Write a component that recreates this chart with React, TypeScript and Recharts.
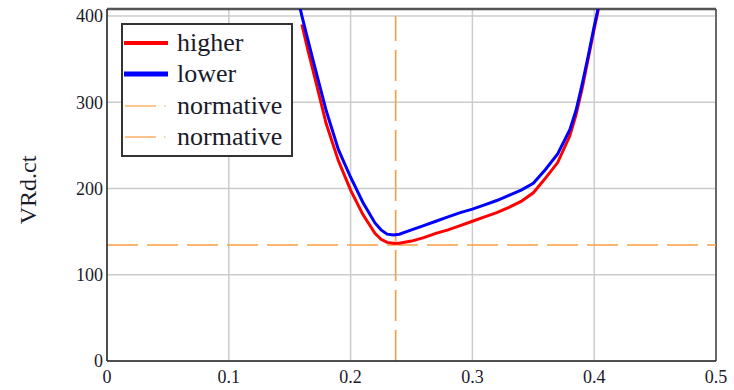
import {
  LineChart,
  Line,
  XAxis,
  YAxis,
  CartesianGrid,
  ReferenceLine,
  Legend,
} from 'recharts'

// x positions shared by both curves
const xs = [
  0.155, 0.16, 0.165, 0.17, 0.18, 0.19, 0.2, 0.21, 0.22, 0.225, 0.23, 0.235, 0.24, 0.25, 0.26,
  0.27, 0.28, 0.29, 0.3, 0.31, 0.32, 0.33, 0.34, 0.35, 0.36, 0.37, 0.38, 0.385, 0.39, 0.395,
  0.4, 0.405,
]
// red curve starts at x = 0.16
const higher = [
  null, 390, 360, 332, 275, 232, 198, 170, 148, 141, 137.5, 136.5, 136.5, 139, 143,
  148, 152, 157, 162, 167, 172, 178, 185, 195, 212, 230, 261, 285, 315, 350,
  385, 418,
]
const lower = [
  430, 400, 372, 344, 290, 245, 213, 184, 160, 152, 147, 146, 147, 152, 157,
  162, 167, 172, 176, 181, 186, 192, 198, 206, 222, 240, 268, 290, 320, 353,
  388, 420,
]
const xTicks = [0, 0.1, 0.2, 0.3, 0.4, 0.5]
const yTicks = [0, 100, 200, 300, 400]
const normativeX = 0.237
const normativeY = 134.5

const data = xs.map((x, i) => ({ x, higher: higher[i], lower: lower[i] }))

const FONT = "'Liberation Serif', serif"
const ORANGE = '#fa9f42'
const TEXT = '#1a1a2a'

function ChartLegend() {
  const rows = [
    { label: 'higher', kind: 'red' },
    { label: 'lower', kind: 'blue' },
    { label: 'normative', kind: 'norm' },
    { label: 'normative', kind: 'norm' },
  ]
  return (
    <div
      style={{
        border: '2px solid #333',
        background: '#fff',
        width: 168,
        height: 128,
        boxSizing: 'content-box',
        paddingTop: 2,
      }}
    >
      {rows.map((r, i) => (
        <div key={i} style={{ display: 'flex', alignItems: 'center', height: 31.5 }}>
          <svg width={54} height={12} style={{ flex: 'none' }}>
            {r.kind === 'red' && <line x1={1} y1={6} x2={45} y2={6} stroke="#ff0000" strokeWidth={4} />}
            {r.kind === 'blue' && <line x1={1} y1={6} x2={45} y2={6} stroke="#0000ff" strokeWidth={5} />}
            {r.kind === 'norm' && (
              <>
                <line x1={2} y1={6} x2={33} y2={6} stroke={ORANGE} strokeWidth={1.2} />
                <line x1={41} y1={6} x2={42.5} y2={6} stroke={ORANGE} strokeWidth={1.2} />
              </>
            )}
          </svg>
          <span style={{ fontFamily: FONT, fontSize: 26, color: TEXT, lineHeight: '26px' }}>{r.label}</span>
        </div>
      ))}
    </div>
  )
}

const tickStyle = { fill: TEXT, fontSize: 18, fontFamily: FONT }

export default function App() {
  return (
    <div style={{ position: 'absolute', left: 0, top: 0, background: '#fff', fontFamily: FONT }}>
      <LineChart width={734} height={390} data={data} margin={{ top: 9, right: 18, left: 0, bottom: 0 }}>
        <CartesianGrid stroke="#cccccc" strokeWidth={1.5} />
        <XAxis
          dataKey="x"
          type="number"
          domain={[0, 0.5]}
          ticks={xTicks}
          height={29}
          tickLine={false}
          tickSize={4}
          tickMargin={5}
          axisLine={{ stroke: '#222', strokeWidth: 1.5 }}
          tick={tickStyle}
        />
        <YAxis
          type="number"
          domain={[0, 408]}
          allowDataOverflow
          ticks={yTicks}
          width={107}
          tickLine={false}
          tickSize={2}
          tickMargin={2}
          axisLine={{ stroke: '#222', strokeWidth: 1.5 }}
          tick={tickStyle}
          label={{
            content: () => (
              <text
                x={36}
                y={190}
                transform="rotate(-90 36 190)"
                textAnchor="middle"
                fontSize={24}
                fontFamily={FONT}
                fill={TEXT}
              >
                VRd.ct
              </text>
            ),
          }}
        />
        <ReferenceLine y={408} stroke="#555" strokeWidth={2.5} ifOverflow="visible" />
        <ReferenceLine x={0.5} stroke="#444" strokeWidth={1.5} ifOverflow="visible" />
        <ReferenceLine y={normativeY} stroke={ORANGE} strokeWidth={1.6} strokeDasharray="31 9" />
        <ReferenceLine
          segment={[
            { x: normativeX, y: 0 },
            { x: normativeX, y: 400 },
          ]}
          stroke={ORANGE}
          strokeWidth={1.6}
          strokeDasharray="31 9"
        />
        <Line type="linear" dataKey="higher" stroke="#ff0000" strokeWidth={3} dot={false} isAnimationActive={false} />
        <Line type="linear" dataKey="lower" stroke="#0000ff" strokeWidth={3} dot={false} isAnimationActive={false} />
        <Legend
          layout="horizontal"
          verticalAlign="middle"
          align="center"
          content={<ChartLegend />}
          wrapperStyle={{ left: 121, top: 23, width: 172, height: 132 }}
        />
      </LineChart>
    </div>
  )
}
